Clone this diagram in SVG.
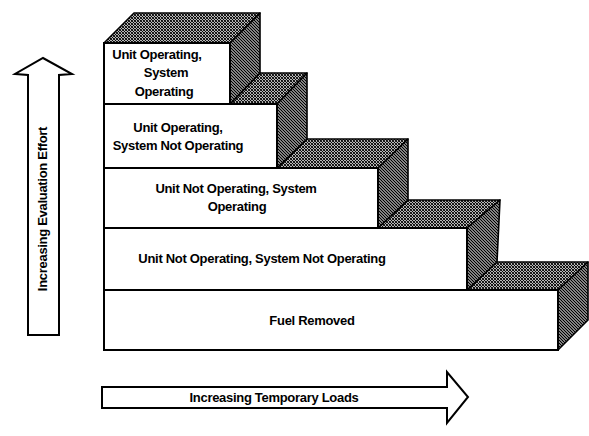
<svg xmlns="http://www.w3.org/2000/svg" width="589" height="436" viewBox="0 0 589 436">
<style>
.front{fill:#fff;stroke:#000;stroke-width:2}
.top{fill:url(#hTop);stroke:#000;stroke-width:1.6;stroke-linejoin:round}
.side{fill:url(#hSide);stroke:#000;stroke-width:1.6;stroke-linejoin:round}
.lbl{font-family:"Liberation Sans",Arial,sans-serif;font-weight:bold;font-size:13px;fill:#000;text-anchor:middle;letter-spacing:-0.3px}
.arrow{fill:#fff;stroke:#000;stroke-width:2;stroke-linejoin:miter}
</style>
<defs>
<pattern id="hSide" width="3" height="3" patternUnits="userSpaceOnUse">
<rect width="3" height="3" fill="#fff"/>
<path d="M-1,-1 L4,4 M-1,2 L1,4 M2,-1 L4,1" stroke="#000" stroke-width="1.4"/>
</pattern>
<pattern id="hTop" width="3" height="3" patternUnits="userSpaceOnUse">
<rect width="3" height="3" fill="#fff"/>
<path d="M-1,-1 L4,4 M-1,2 L1,4 M2,-1 L4,1" stroke="#000" stroke-width="1.1"/>
<path d="M-1,4 L4,-1" stroke="#000" stroke-width="0.8"/>
</pattern>
</defs>

<g id="block5">
<polygon class="top" points="467,290 497,262 588,262 558,290"/>
<polygon class="side" points="558,290 588,262 588,320 558,350"/>
<rect class="front" x="104" y="290" width="454" height="60"/>
<text class="lbl" x="312" y="325">Fuel Removed</text>
</g>

<g id="block4">
<polygon class="top" points="378,228 408,200 500,200 467,228"/>
<polygon class="side" points="467,228 500,200 497,262 467,290"/>
<rect class="front" x="104" y="228" width="363" height="62"/>
<text class="lbl" x="262" y="263">Unit Not Operating, System Not Operating</text>
</g>

<g id="block3">
<polygon class="top" points="277,168 307,139 408,139 378,168"/>
<polygon class="side" points="378,168 408,139 408,200 378,228"/>
<rect class="front" x="104" y="168" width="274" height="60"/>
<text class="lbl" x="236" y="193">Unit Not Operating, System</text>
<text class="lbl" x="237" y="211">Operating</text>
</g>

<g id="block2">
<polygon class="top" points="230,104 260,73 307,73 277,104"/>
<polygon class="side" points="277,104 307,73 307,139 277,168"/>
<rect class="front" x="104" y="104" width="173" height="64"/>
<text class="lbl" x="178" y="132">Unit Operating,</text>
<text class="lbl" x="178" y="150">System Not Operating</text>
</g>

<g id="block1">
<polygon class="top" points="104,43 134,13 260,13 230,43"/>
<polygon class="side" points="230,43 260,13 260,73 230,104"/>
<rect class="front" x="104" y="43" width="126" height="61"/>
<text class="lbl" x="157" y="59">Unit Operating,</text>
<text class="lbl" x="166" y="77">System</text>
<text class="lbl" x="164" y="96">Operating</text>
</g>

<g id="connectors">
<g id="arrow-effort">
<polygon class="arrow" points="28,335 28,75 15,74 43,58 72,74 59,75 59,335"/>
<text class="lbl" transform="translate(47,209) rotate(-90)">Increasing Evaluation Effort</text>
</g>
<g id="arrow-loads">
<polygon class="arrow" points="102,387 447,387 447,372 468,397 447,423 447,408 102,408"/>
<text class="lbl" x="274" y="402">Increasing Temporary Loads</text>
</g>
</g>
</svg>
